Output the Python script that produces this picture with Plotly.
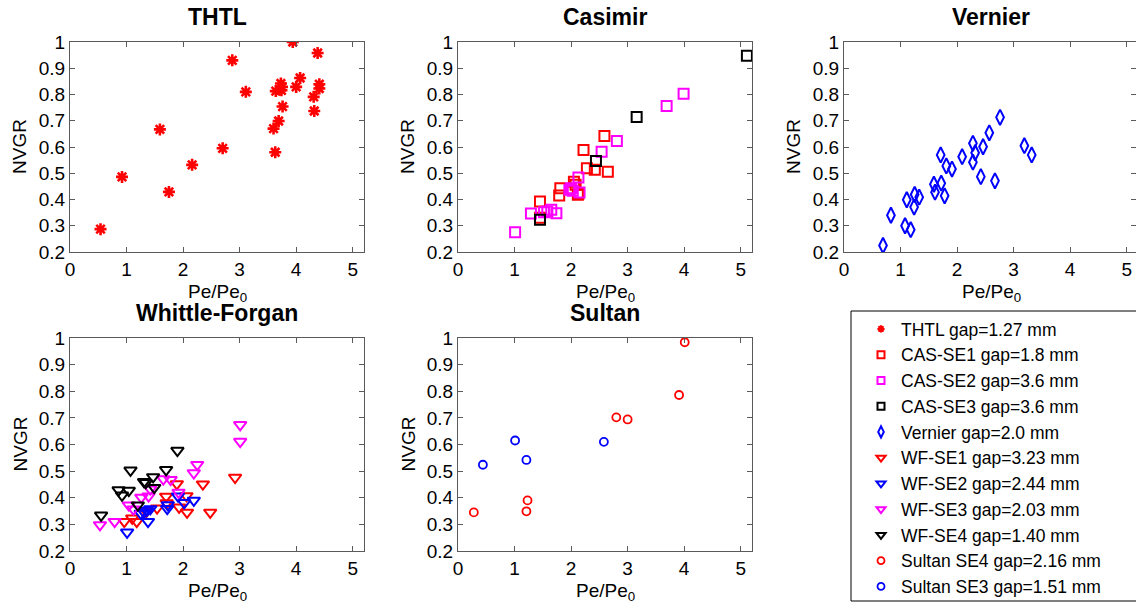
import plotly.graph_objects as go

W, H = 1136, 607

# ---------------- data ----------------
thtl_x = [0.54, 0.92, 1.59, 1.75, 2.16, 2.70, 2.87, 3.11, 3.63, 3.60, 3.69, 3.76, 3.64, 3.73, 3.75, 3.74, 3.94, 4.00, 4.07, 4.31, 4.32, 4.38, 4.41, 4.41]
thtl_y = [0.287, 0.486, 0.667, 0.429, 0.532, 0.595, 0.930, 0.810, 0.580, 0.670, 0.699, 0.754, 0.813, 0.842, 0.829, 0.816, 1.000, 0.829, 0.863, 0.791, 0.737, 0.958, 0.839, 0.823]

cas1_x = [1.45, 1.45, 1.79, 1.81, 2.05, 2.08, 2.12, 2.13, 2.22, 2.28, 2.42, 2.59, 2.65]
cas1_y = [0.392, 0.330, 0.415, 0.443, 0.468, 0.456, 0.418, 0.422, 0.589, 0.519, 0.513, 0.642, 0.506]

cas2_x = [1.01, 1.29, 1.52, 1.58, 1.65, 1.74, 1.97, 2.00, 2.03, 2.13, 2.15, 2.54, 2.81, 3.69, 3.99]
cas2_y = [0.275, 0.347, 0.351, 0.354, 0.361, 0.348, 0.437, 0.443, 0.433, 0.484, 0.427, 0.582, 0.623, 0.756, 0.803]

cas3_x = [1.45, 2.44, 3.16, 5.11]
cas3_y = [0.323, 0.547, 0.714, 0.948]

ver_x = [0.69, 0.83, 1.08, 1.18, 1.11, 1.24, 1.25, 1.33, 1.59, 1.61, 1.72, 1.71, 1.78, 1.81, 1.91, 2.09, 2.28, 2.32, 2.28, 2.42, 2.46, 2.57, 2.67, 2.76, 3.19, 3.32]
ver_y = [0.225, 0.340, 0.300, 0.285, 0.399, 0.371, 0.419, 0.409, 0.458, 0.428, 0.462, 0.570, 0.414, 0.528, 0.516, 0.563, 0.614, 0.578, 0.542, 0.487, 0.601, 0.654, 0.471, 0.713, 0.605, 0.570]

wf1_x = [0.96, 1.10, 1.18, 1.35, 1.54, 1.70, 1.71, 1.89, 1.93, 2.06, 2.07, 2.35, 2.48, 2.92]
wf1_y = [0.310, 0.323, 0.310, 0.348, 0.361, 0.405, 0.380, 0.452, 0.364, 0.407, 0.345, 0.451, 0.345, 0.476]

wf2_x = [1.01, 1.25, 1.31, 1.36, 1.42, 1.38, 1.72, 1.73, 1.91, 2.02, 2.19]
wf2_y = [0.270, 0.341, 0.345, 0.352, 0.358, 0.310, 0.359, 0.373, 0.406, 0.381, 0.390]

wf3_x = [0.53, 0.79, 1.04, 1.12, 1.26, 1.39, 1.42, 1.65, 1.78, 1.92, 2.19, 2.25, 3.01, 3.01]
wf3_y = [0.298, 0.310, 0.372, 0.357, 0.401, 0.406, 0.432, 0.470, 0.468, 0.420, 0.493, 0.524, 0.611, 0.674]

wf4_x = [0.55, 0.86, 0.92, 1.04, 1.07, 1.20, 1.31, 1.34, 1.47, 1.49, 1.70, 1.90]
wf4_y = [0.334, 0.429, 0.409, 0.427, 0.503, 0.372, 0.460, 0.456, 0.478, 0.438, 0.505, 0.577]

sul4_x = [0.28, 1.21, 1.23, 2.80, 3.00, 3.91, 4.01]
sul4_y = [0.345, 0.349, 0.390, 0.702, 0.694, 0.786, 0.984]

sul3_x = [0.44, 1.01, 1.21, 2.58]
sul3_y = [0.524, 0.615, 0.542, 0.610]

x_ticks = [0, 1, 2, 3, 4, 5]
y_ticks = [0.2, 0.3, 0.4, 0.5, 0.6, 0.7, 0.8, 0.9, 1.0]
y_ticktext = ["0.2", "0.3", "0.4", "0.5", "0.6", "0.7", "0.8", "0.9", "1"]

panel_titles = ["THTL", "Casimir", "Vernier", "Whittle-Forgan", "Sultan"]
legend_names = ["THTL gap=1.27 mm", "CAS-SE1 gap=1.8 mm", "CAS-SE2 gap=3.6 mm", "CAS-SE3 gap=3.6 mm",
                "Vernier gap=2.0 mm", "WF-SE1 gap=3.23 mm", "WF-SE2 gap=2.44 mm", "WF-SE3 gap=2.03 mm",
                "WF-SE4 gap=1.40 mm", "Sultan SE4 gap=2.16 mm", "Sultan SE3 gap=1.51 mm"]

# ---------------- layout helpers ----------------
def px_x(p):
    return p / W

def px_y(p):
    return 1 - p / H

FONT = "Liberation Sans, Arial, sans-serif"
AXC = "#5a5a5a"

# panel pixel boxes: (left, right, top, bottom)
boxes = [
    (70, 364, 42, 252),
    (458, 752, 42, 252),
    (844, 1136, 42, 252),
    (70, 364, 338, 551),
    (458, 752, 338, 551),
]

fig = go.Figure()

RED, MAG, BLK, BLU = "#FF0000", "#FF00FF", "#000000", "#0000FF"

# (x, y, panel, symbol, colour, size, line width, legend size)
series = [
    (thtl_x, thtl_y, 1, "asterisk-open", RED, 10, 2.6, 6),
    (cas1_x, cas1_y, 2, "square-open", RED, 10, 2.0, 7),
    (cas2_x, cas2_y, 2, "square-open", MAG, 10, 2.0, 7),
    (cas3_x, cas3_y, 2, "square-open", BLK, 10, 2.0, 7),
    (ver_x, ver_y, 3, "diamond-tall-open", BLU, 11, 2.0, 8),
    (wf1_x, wf1_y, 4, "triangle-down-open", RED, 11, 2.0, 8),
    (wf2_x, wf2_y, 4, "triangle-down-open", BLU, 11, 2.0, 8),
    (wf3_x, wf3_y, 4, "triangle-down-open", MAG, 11, 2.0, 8),
    (wf4_x, wf4_y, 4, "triangle-down-open", BLK, 11, 2.0, 8),
    (sul4_x, sul4_y, 5, "circle-open", RED, 8, 1.8, 7),
    (sul3_x, sul3_y, 5, "circle-open", BLU, 8, 1.8, 7),
]

for (xs, ys, ax, sym, col, size, lw, lsize), name in zip(series, legend_names):
    suffix = "" if ax == 1 else str(ax)
    fig.add_trace(go.Scatter(
        x=xs, y=ys, mode="markers", name=name, showlegend=False, legendgroup=name,
        xaxis="x" + suffix, yaxis="y" + suffix,
        marker=dict(symbol=sym, color=col, size=size, line=dict(color=col, width=lw)),
    ))

# legend entries (same series, smaller legend symbols as in the reference)
for (xs, ys, ax, sym, col, size, lw, lsize), name in zip(series, legend_names):
    suffix = "" if ax == 1 else str(ax)
    fig.add_trace(go.Scatter(
        x=[None], y=[None], mode="markers", name=name, legendgroup=name,
        xaxis="x" + suffix, yaxis="y" + suffix,
        marker=dict(symbol=sym, color=col, size=lsize, line=dict(color=col, width=min(lw, 2.0))),
    ))

layout = dict(
    width=W, height=H,
    margin=dict(l=0, r=0, t=0, b=0, autoexpand=False),
    paper_bgcolor="white", plot_bgcolor="white",
    font=dict(family=FONT, size=19, color="black"),
    showlegend=True,
    legend=dict(
        x=px_x(861), y=px_y(311), xanchor="left", yanchor="top",
        bgcolor="rgba(0,0,0,0)", borderwidth=0,
        font=dict(family=FONT, size=17.5, color="black"),
        tracegroupgap=0, itemclick=False, itemdoubleclick=False,
    ),
)

annotations = []
for i, (l, r, t, b) in enumerate(boxes):
    ax = i + 1
    suffix = "" if ax == 1 else str(ax)
    xr_max = 5.2 * (r - l) / 294.0
    layout["xaxis" + suffix] = dict(
        domain=[px_x(l), min(px_x(r), 1.0)], range=[0, xr_max],
        anchor="y" + suffix, tickvals=x_ticks, ticktext=[str(v) for v in x_ticks],
        ticks="inside", ticklen=5, tickcolor=AXC, showline=True, linecolor=AXC, linewidth=1,
        mirror="allticks", showgrid=False, zeroline=False,
        tickfont=dict(family=FONT, size=19, color="black"),
    )
    layout["yaxis" + suffix] = dict(
        domain=[px_y(b), px_y(t)], range=[0.2, 1.0],
        anchor="x" + suffix, tickvals=y_ticks, ticktext=y_ticktext,
        ticks="inside", ticklen=5, tickcolor=AXC, showline=True, linecolor=AXC, linewidth=1,
        mirror="allticks", showgrid=False, zeroline=False,
        tickfont=dict(family=FONT, size=19, color="black"),
    )
    cx = (l + r) / 2 if i != 2 else (l + 1138) / 2
    # panel title
    annotations.append(dict(
        text="<b>%s</b>" % panel_titles[i], x=px_x(cx), y=px_y(t - 25),
        xref="paper", yref="paper", showarrow=False, xanchor="center", yanchor="middle",
        font=dict(family=FONT, size=23, color="black"),
    ))
    # x label
    annotations.append(dict(
        text="Pe/Pe<sub>0</sub>", x=px_x(cx), y=px_y(b + 41),
        xref="paper", yref="paper", showarrow=False, xanchor="center", yanchor="middle",
        font=dict(family=FONT, size=19, color="black"),
    ))
    # y label
    annotations.append(dict(
        text="NVGR", x=px_x(l - 50), y=px_y((t + b) / 2),
        xref="paper", yref="paper", showarrow=False, xanchor="center", yanchor="middle",
        textangle=-90, font=dict(family=FONT, size=19, color="black"),
    ))

layout["annotations"] = annotations
layout["shapes"] = [dict(
    type="rect", xref="paper", yref="paper",
    x0=px_x(851), x1=px_x(1140), y0=px_y(601), y1=px_y(311),
    line=dict(color="black", width=1), fillcolor="white", layer="below",
)]

fig.update_layout(**layout)
fig.write_html("out.html")
